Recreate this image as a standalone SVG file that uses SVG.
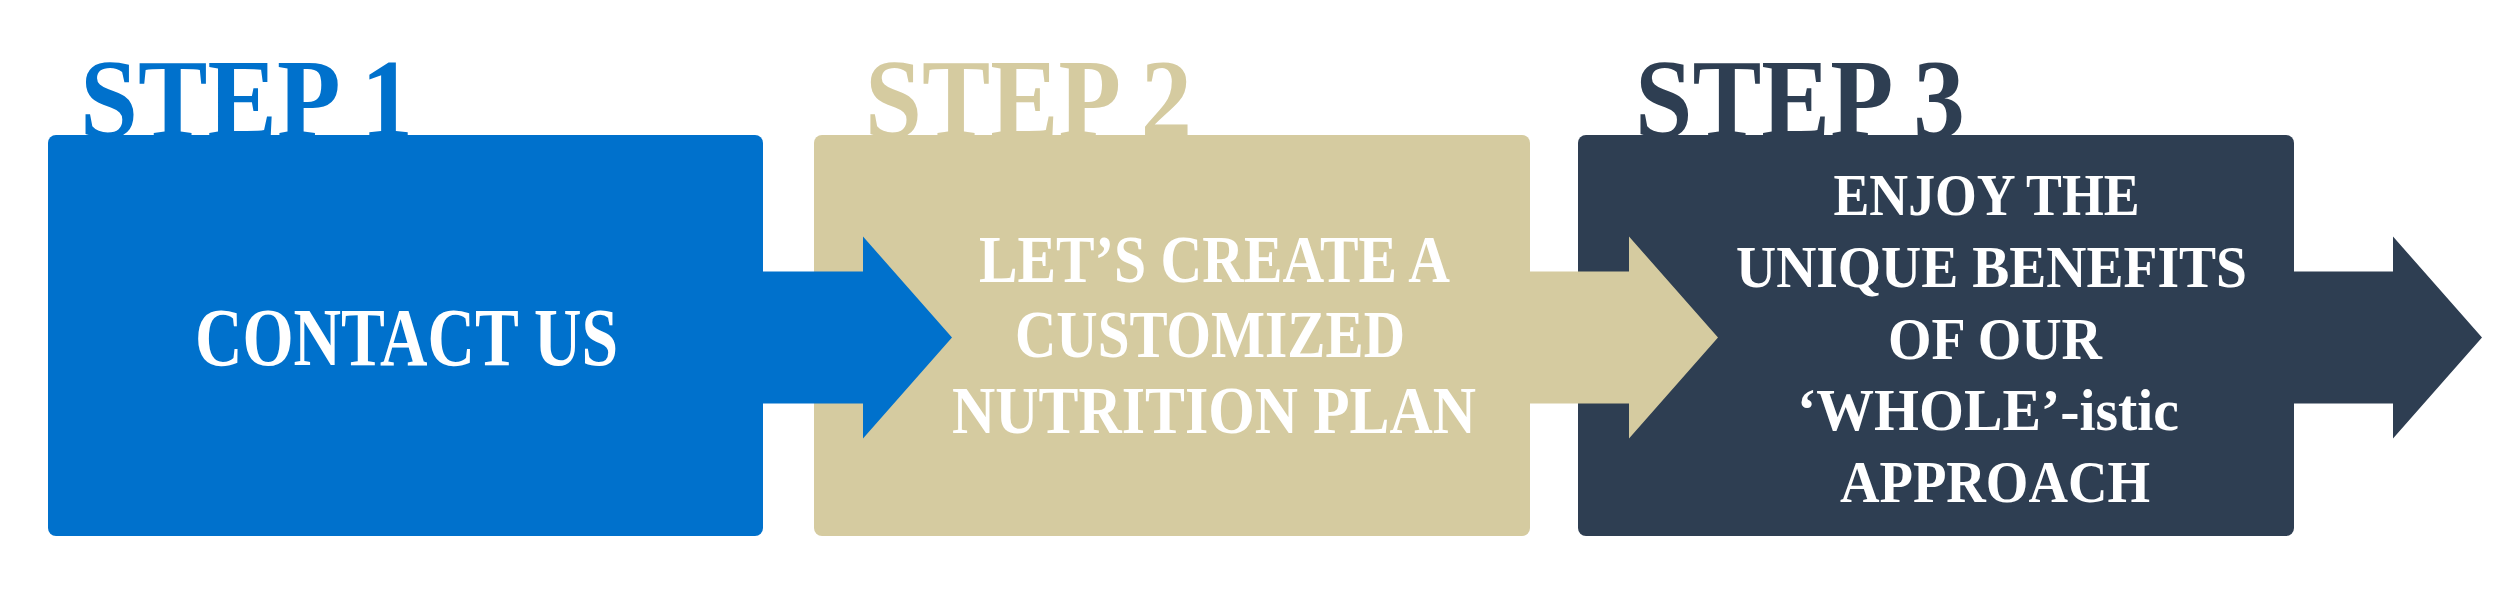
<svg xmlns="http://www.w3.org/2000/svg" width="2500" height="614" viewBox="0 0 2500 614">
  <style>
    .step { font-family: "Liberation Serif", "Times New Roman", serif; font-weight: bold; font-size: 113px; lengthAdjust: spacingAndGlyphs; }
    .body { font-family: "Liberation Serif", "Times New Roman", serif; font-weight: bold; fill: #ffffff; text-anchor: middle; }
    .blue { fill: #0071CC; }
    .tan { fill: #D5CBA0; }
    .navy { fill: #2E3E52; }
  </style>
  <rect width="2500" height="614" fill="#ffffff"/>
  <g id="step3">
    <text class="step navy" x="1635" y="137" textLength="330" lengthAdjust="spacingAndGlyphs">STEP 3</text>
    <rect class="navy" x="1578" y="135" width="716" height="401" rx="8" ry="8"/>
  </g>
  <g id="step2">
    <text class="step tan" x="865" y="137" textLength="327" lengthAdjust="spacingAndGlyphs">STEP 2</text>
    <rect class="tan" x="814" y="135" width="716" height="401" rx="8" ry="8"/>
  </g>
  <g id="step1">
    <text class="step blue" x="80" y="137" textLength="333" lengthAdjust="spacingAndGlyphs">STEP 1</text>
    <rect class="blue" x="48" y="135" width="715" height="401" rx="8" ry="8"/>
  </g>
  <g id="connectors">
    <polygon class="blue" points="760,271.5 863,271.5 863,236.5 952,337.5 863,438.5 863,403.5 760,403.5"/>
    <polygon class="tan" points="1527,271.5 1629,271.5 1629,236.5 1718,337.5 1629,438.5 1629,403.5 1527,403.5"/>
    <polygon class="navy" points="2291,271.5 2393,271.5 2393,236.5 2482,337.5 2393,438.5 2393,403.5 2291,403.5"/>
  </g>
  <g id="step1-text">
    <text class="body" x="406.5" y="365" font-size="82" textLength="423" lengthAdjust="spacingAndGlyphs">CONTACT US</text>
  </g>
  <g id="step2-text">
    <text class="body" x="1214.5" y="282" font-size="67" textLength="471" lengthAdjust="spacingAndGlyphs">LET’S CREATE A</text>
    <text class="body" x="1210" y="357" font-size="67" textLength="390" lengthAdjust="spacingAndGlyphs">CUSTOMIZED</text>
    <text class="body" x="1214" y="433" font-size="67" textLength="524" lengthAdjust="spacingAndGlyphs">NUTRITION PLAN</text>
  </g>
  <g id="step3-text">
    <text class="body" x="1986.5" y="215" font-size="60" textLength="306" lengthAdjust="spacingAndGlyphs">ENJOY THE</text>
    <text class="body" x="1991.5" y="287" font-size="60" textLength="511" lengthAdjust="spacingAndGlyphs">UNIQUE BENEFITS</text>
    <text class="body" x="1995" y="359" font-size="60" textLength="214" lengthAdjust="spacingAndGlyphs">OF OUR</text>
    <text class="body" x="1988" y="430" font-size="60" textLength="382" lengthAdjust="spacingAndGlyphs">‘WHOLE’-istic</text>
    <text class="body" x="1995" y="502" font-size="60" textLength="310" lengthAdjust="spacingAndGlyphs">APPROACH</text>
  </g>
</svg>
